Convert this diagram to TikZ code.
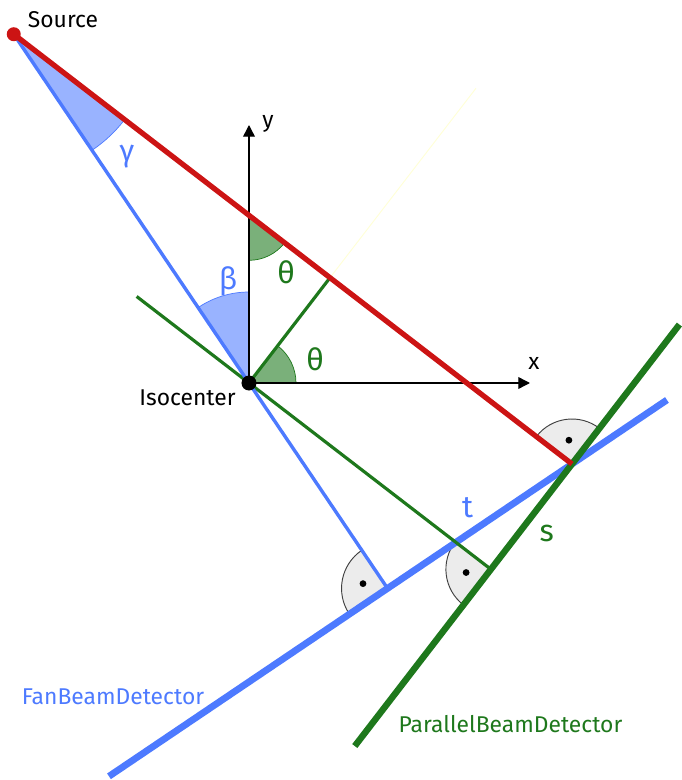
\documentclass[tikz,border=0pt]{standalone}
\usepackage{fontspec}
\setmainfont{Fira Sans}
\usetikzlibrary{arrows.meta, calc}
\definecolor{rayred}{RGB}{204,20,20}
\definecolor{fanblue}{RGB}{77,122,255}
\definecolor{fanfill}{RGB}{153,179,255}
\definecolor{pargreen}{RGB}{30,120,28}
\definecolor{parfill}{RGB}{122,176,122}
\definecolor{markgray}{RGB}{236,236,236}
\definecolor{faintyellow}{RGB}{255,255,215}

\begin{document}
\begin{tikzpicture}[
    x=0.03cm, y=0.03cm,
    axis/.style={-{Triangle[length=10pt, width=10pt]}, line width=1.2pt, color=black},
    redray/.style={line width=4.5pt, color=rayred},
    fanray/.style={line width=2.9pt, color=fanblue},
    fandet/.style={line width=5.8pt, color=fanblue},
    parray/.style={line width=2.7pt, color=pargreen},
    pardet/.style={line width=5.5pt, color=pargreen},
    fanangle/.style={fill=fanfill, draw=fanblue, line width=0.6pt},
    parangle/.style={fill=parfill, draw=pargreen, line width=0.6pt},
    rightmark/.style={fill=markgray, draw=black!75, line width=0.8pt},
    txt/.style={font=\fontsize{19.5}{22}\selectfont},
    sym/.style={font=\fontsize{26}{29}\selectfont}
]
\useasboundingbox (-249,-397) rectangle (433,383);
% points
\coordinate (iso) at (0,0);
\coordinate (src) at (124:420.7);
\coordinate (hit) at (323,-81);
\coordinate (xtip) at (281,0);
\coordinate (ytip) at (0,258);
\coordinate (perp) at ($(src)!(iso)!(hit)$);
\coordinate (faint) at (52.4:372);
\coordinate (fanfoot) at ($(iso)!(hit)!(304:1)$);
\coordinate (parfoot) at ($(hit)!(iso)!($(hit)+(52.4:1)$)$);
\coordinate (greenstart) at (142.4:141.8);
\coordinate (cross) at (intersection of src--hit and iso--ytip);
\coordinate (fanA) at ($(fanfoot)+(214:336)$);
\coordinate (fanB) at ($(fanfoot)+(34:337)$);
\coordinate (parA) at ($(hit)+(232.4:356)$);
\coordinate (parB) at ($(hit)+(52.4:176)$);
% angle wedges
\draw[fanangle] (src) -- ++(304:140) arc[start angle=304, end angle=322.4, radius=140] -- cycle;
\draw[fanangle] (iso) -- ++(90:91) arc[start angle=90, end angle=124, radius=91] -- cycle;
\draw[parangle] (iso) -- ++(0:47) arc[start angle=0, end angle=52.4, radius=47] -- cycle;
\draw[parangle] (cross) -- ++(270:45) arc[start angle=270, end angle=322.4, radius=45] -- cycle;
% right angle marks
\fill[markgray] (fanfoot) -- ++(124:46) arc[start angle=124, end angle=214, radius=46] -- cycle;
\draw[rightmark, fill=none] ($(fanfoot)+(124:46)$) arc[start angle=124, end angle=214, radius=46];
\fill[markgray] (parfoot) -- ++(142.4:45) arc[start angle=142.4, end angle=232.4, radius=45] -- cycle;
\draw[rightmark, fill=none] ($(parfoot)+(142.4:45)$) arc[start angle=142.4, end angle=232.4, radius=45];
\fill[markgray] (hit) -- ++(52.4:45) arc[start angle=52.4, end angle=142.4, radius=45] -- cycle;
\draw[rightmark, fill=none] ($(hit)+(52.4:45)$) arc[start angle=52.4, end angle=142.4, radius=45];
\fill ($(fanfoot)+(169:25)$) circle[radius=3.4];
\fill ($(parfoot)+(187.4:25)$) circle[radius=3.4];
\fill ($(hit)+(97.4:24)$) circle[radius=3.4];
% lines
\draw[faintyellow, line width=0.8pt] (perp) -- (faint);
\draw[axis] (iso) -- (xtip);
\draw[axis] (iso) -- (ytip);
\draw[fandet] (fanA) -- (fanB);
\draw[pardet] (parA) -- (parB);
\draw[parray] (greenstart) -- (parfoot);
\draw[parray] (iso) -- (perp);
\draw[fanray] (src) -- (fanfoot);
\draw[redray] (src) -- (hit);
\fill[rayred] (src) circle[radius=7];
\fill[black] (iso) circle[radius=7.5];
% labels
\node[txt] (srclabel) at (-186,363.5) {Source};
\node[txt] (isolabel) at (-61.5,-15) {Isocenter};
\node[txt] (xlabel) at (285,20) {x};
\node[txt] (ylabel) at (19,259) {y};
\node[sym, text=fanblue] (gamma) at (-122,226) {γ};
\node[sym, text=fanblue] (beta) at (-21,102) {β};
\node[sym, text=pargreen] (thetaup) at (37,111) {θ};
\node[sym, text=pargreen] (thetalow) at (66,24) {θ};
\node[sym, text=fanblue] (tlabel) at (218.7,-125) {t};
\node[sym, text=pargreen] (slabel) at (297.7,-150) {s};
\node[txt, text=fanblue] (fandetlabel) at (-136,-314) {FanBeamDetector};
\node[txt, text=pargreen] (pardetlabel) at (261.5,-341) {ParallelBeamDetector};
\end{tikzpicture}
\end{document}
